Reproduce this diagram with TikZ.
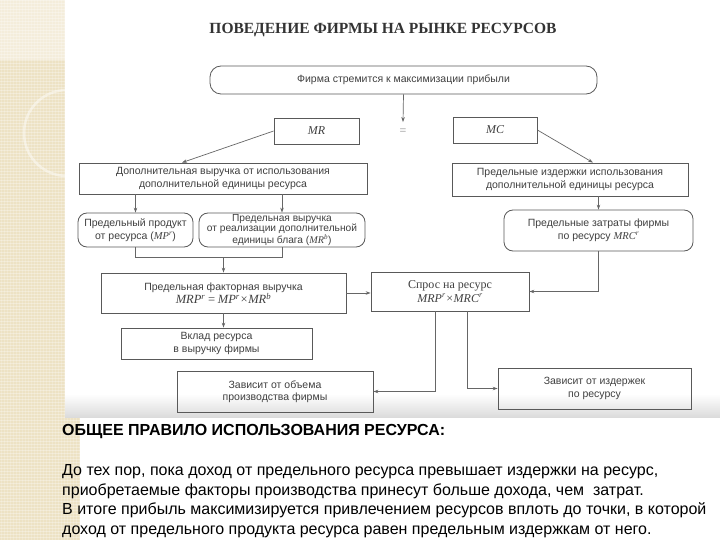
\documentclass[tikz,border=0pt]{standalone}
\usepackage{fontspec}
\setmainfont{Liberation Serif}
\setsansfont{Liberation Sans}
\usetikzlibrary{arrows.meta,positioning,calc}

\definecolor{strip}{RGB}{237,226,196}
\newcommand{\econ}[1]{{\rmfamily\itshape #1}}

\begin{document}
\begin{tikzpicture}[x=1pt, y=-1pt,
  blk/.style={rectangle, draw=black!65, line width=0.8pt,
              align=center, inner sep=1pt, text=black!75,
              font=\sffamily\fontsize{10.5}{12.5}\selectfont},
  rblk/.style={blk, rounded corners=9pt},
  arrow/.style={-{Stealth[length=5pt,width=3.5pt]}, line width=0.7pt, black!60},
  link/.style={line width=0.7pt, black!60},
  ruletxt/.style={anchor=base west, inner sep=0pt, text=black,
                  font=\sffamily\fontsize{16}{19}\selectfont}
]
\useasboundingbox (0,0) rectangle (720,540);

% Background: page, beige strip, scanned sheet
\fill[white] (0,0) rectangle (720,540);
\fill[strip] (0,0) rectangle (80,540);
\foreach \y in {0,3,...,540}
  \draw[white, opacity=0.3, line width=0.8pt] (0,\y) -- (80,\y);
\foreach \x in {1,4,...,79}
  \draw[white, opacity=0.2, line width=0.8pt] (\x,0) -- (\x,540);
\fill[white] (65,0) rectangle (720,417);
\fill[white, opacity=0.4] (0,0) rectangle (75,60);
\begin{scope}
  \clip (0,0) rectangle (65,417);
  \draw[white, opacity=0.45, line width=2.5pt] (67,133) circle (43);
\end{scope}
\shade[top color=white, bottom color=black!14] (65,394) rectangle (720,417);

% Title
\node[font=\rmfamily\bfseries\fontsize{15.5}{18}\selectfont, text=black!80] (title) at (383,30)
  {ПОВЕДЕНИЕ ФИРМЫ НА РЫНКЕ РЕСУРСОВ};

% Top level
\node[rblk, rounded corners=11pt, minimum width=387pt, minimum height=28pt] (goal) at (403.5,80)
  {Фирма стремится к максимизации прибыли};
\node[inner xsep=1pt, inner ysep=7pt, text=black!45,
      font=\rmfamily\fontsize{12}{12}\selectfont] (eq) at (403,132) {=};
\node[blk, minimum width=85pt, minimum height=26pt,
      font=\rmfamily\fontsize{12}{12}\selectfont] (mr) at (316.5,131)
  {\econ{MR}};
\node[blk, minimum width=84pt, minimum height=26pt,
      font=\rmfamily\fontsize{12}{12}\selectfont] (mc) at (495,130)
  {\econ{MC}};

% Revenue side
\node[blk, minimum width=288pt, minimum height=31pt] (rev) at (223,178.5)
  {Дополнительная выручка от использования\\дополнительной единицы ресурса};
\node[rblk, minimum width=115pt, minimum height=34pt] (mp) at (135.5,230)
  {Предельный продукт\\от ресурса (\econ{MP\textsuperscript{r}})};
\node[rblk, minimum width=166pt, minimum height=34pt,
      font=\sffamily\fontsize{10.2}{10.4}\selectfont] (mrb) at (282,230)
  {Предельная выручка\\от реализации дополнительной\\единицы блага (\econ{MR\textsuperscript{b}})};
\node[blk, minimum width=245pt, minimum height=40pt] (mrp) at (223.5,293)
  {Предельная факторная выручка\\{\fontsize{12.5}{14}\selectfont\econ{MRP\textsuperscript{r}\,=\,MP\textsuperscript{r}×MR\textsuperscript{b}}}};
\node[blk, minimum width=191pt, minimum height=31pt] (contr) at (216.5,343.5)
  {Вклад ресурса\\в выручку фирмы};
\node[blk, minimum width=196pt, minimum height=41pt] (dep1) at (275,391.5)
  {Зависит от объема\\производства фирмы};

% Cost side
\node[blk, minimum width=236pt, minimum height=33pt] (cost) at (570,179.5)
  {Предельные издержки использования\\дополнительной единицы ресурса};
\node[rblk, minimum width=189pt, minimum height=41pt] (mrc) at (598.5,230.5)
  {Предельные затраты фирмы\\по ресурсу \econ{MRC\textsuperscript{r}}};
\node[blk, minimum width=158pt, minimum height=39pt,
      font=\rmfamily\fontsize{12}{13.5}\selectfont] (dem) at (450,291.5)
  {Спрос на ресурс\\\econ{MRP\textsuperscript{r}×MRC\textsuperscript{r}}};
\node[blk, minimum width=193pt, minimum height=41pt] (dep2) at (594.5,388.5)
  {Зависит от издержек\\по ресурсу};

% Connectors
\draw[arrow] (goal.south) -- (eq.north);
\draw[arrow] (mr.west) -- ([xshift=-41pt]rev.north);
\draw[arrow] (mc.east) -- ([xshift=23pt]cost.north);
\draw[arrow] (rev.south -| mp.north) -- (mp.north);
\draw[arrow] (rev.south -| mrb.north) -- (mrb.north);
\draw[link] (mp.south) -- ++(0,10) coordinate (jn) -| (mrb.south);
\draw[arrow] (jn -| mrp.north) -- (mrp.north);
\draw[arrow] (mrp.south) -- (mrp.south |- contr.north);
\draw[arrow] (mrp.east) -- (mrp.east -| dem.west);
\draw[arrow] (cost.south -| mrc.north) -- (mrc.north);
\draw[arrow] (mrc.south) |- (dem.east);
\draw[arrow] ([xshift=-15pt]dem.south) |- (dep1.east);
\draw[arrow] ([xshift=17pt]dem.south) |- (dep2.west);

% General rule
\node[ruletxt, font=\sffamily\bfseries\fontsize{16}{19}\selectfont] (head) at (62,435)
  {ОБЩЕЕ ПРАВИЛО ИСПОЛЬЗОВАНИЯ РЕСУРСА:};
\node[ruletxt] (l1) at (62,475) {До тех пор, пока доход от предельного ресурса превышает издержки на ресурс,};
\node[ruletxt] (l2) at (62,495) {приобретаемые факторы производства принесут больше дохода, чем \ затрат.};
\node[ruletxt] (l3) at (62,514) {В итоге прибыль максимизируется привлечением ресурсов вплоть до точки, в которой};
\node[ruletxt] (l4) at (62,534) {доход от предельного продукта ресурса равен предельным издержкам от него.};

\end{tikzpicture}
\end{document}
